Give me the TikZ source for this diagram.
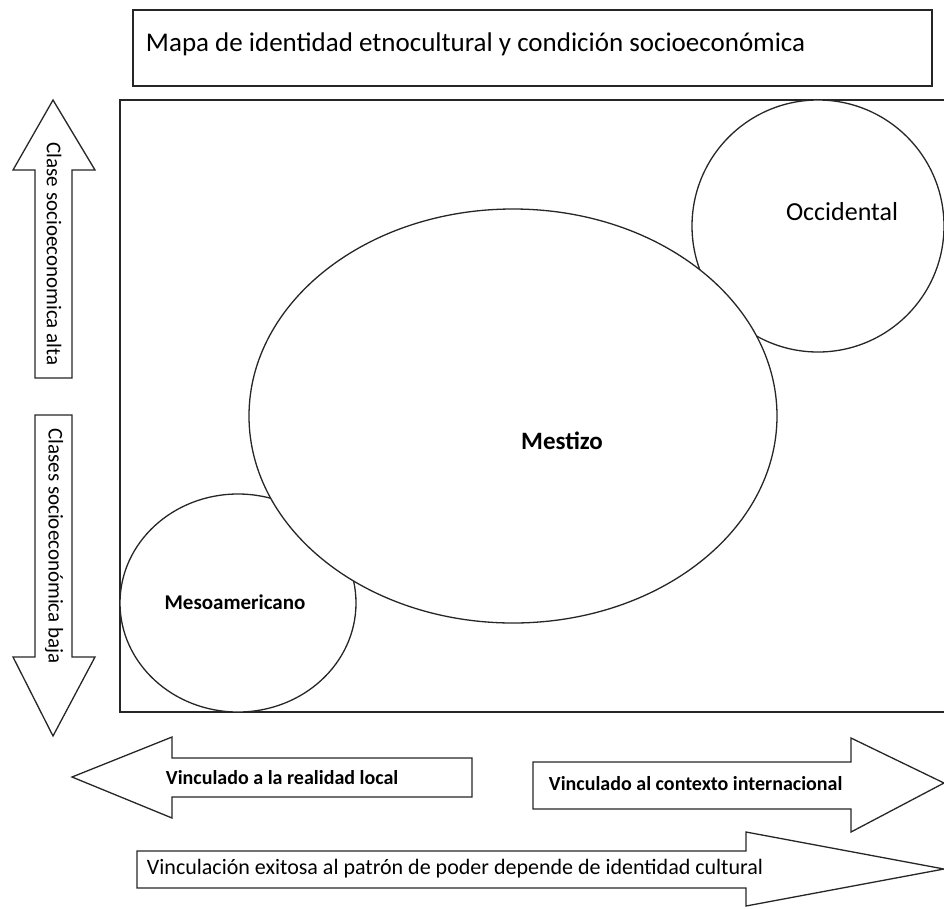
\documentclass[tikz,border=0pt]{standalone}
\usepackage{fontspec}
\setmainfont{Carlito}
\usetikzlibrary{shapes.geometric}
\definecolor{c262626}{RGB}{38,38,38}
\tikzset{every path/.style={line width=1.3pt,color=c262626,line join=miter}}

\begin{document}
\begin{tikzpicture}[x=1pt,y=-1pt]
\useasboundingbox (0,0) rectangle (944,908);

% title box
\node[draw,minimum width=799pt,minimum height=76pt,inner sep=0pt] (title) at (532.5,48) {};
\node[anchor=west,text=black,font=\fontsize{27}{27}\selectfont] (titletext) at (142,44)
 {Mapa de identidad etnocultural y condición socioeconómica};

% frame
\draw (120,100) rectangle (948,712);

\begin{scope}[every node/.style={draw,ellipse,fill=white,inner sep=0pt}]
\node[minimum width=252pt,minimum height=252pt] (occ) at (818,226) {};
\node[minimum width=236pt,minimum height=218pt] (meso) at (238,603) {};
\node[minimum width=528pt,minimum height=414pt] (mest) at (513,416) {};
\end{scope}

\node[text=black,font=\fontsize{26}{26}\selectfont] (occlbl) at (842,212) {Occidental};
\node[text=black,font=\fontsize{25}{25}\selectfont\bfseries] (mestlbl) at (562,441) {Mestizo};
\node[text=black,font=\fontsize{21}{21}\selectfont\bfseries] (mesolbl) at (235,602) {Mesoamericano};

% vertical arrows
\draw[fill=white] (53,100) -- (95,170) -- (72,170) -- (72,378) -- (35,378) -- (35,170)
 -- (13,170) -- cycle;
\draw[fill=white] (35,415) -- (72,415) -- (72,657) -- (95,657) -- (53,736) -- (13,657)
 -- (35,657) -- cycle;
\node[rotate=-90,text=black,font=\fontsize{21}{21}\selectfont] (altalbl) at (54,254)
 {Clase socioeconomica alta};
\node[rotate=-90,text=black,font=\fontsize{21}{21}\selectfont] (bajalbl) at (54,546)
 {Clases socioeconómica baja};

% horizontal arrows
\draw[fill=white] (72,777) -- (172,737) -- (172,758) -- (472,758) -- (472,797) -- (172,797)
 -- (172,818) -- cycle;
\draw[fill=white] (533,762) -- (851,762) -- (851,738) -- (944,783) -- (851,832) -- (851,809)
 -- (533,809) -- cycle;
\draw[fill=white] (137,851) -- (746,851) -- (746,832) -- (944,869) -- (746,906) -- (746,888)
 -- (137,888) -- cycle;
\node[anchor=west,text=black,font=\fontsize{20}{20}\selectfont\bfseries] (locallbl) at (162,778)
 {Vinculado a la realidad local};
\node[anchor=west,text=black,font=\fontsize{20}{20}\selectfont\bfseries] (intllbl) at (545,784)
 {Vinculado al contexto internacional};
\node[anchor=west,text=black,font=\fontsize{22}{22}\selectfont] (poderlbl) at (143,869)
 {Vinculación exitosa al patrón de poder depende de identidad cultural};

\end{tikzpicture}
\end{document}
